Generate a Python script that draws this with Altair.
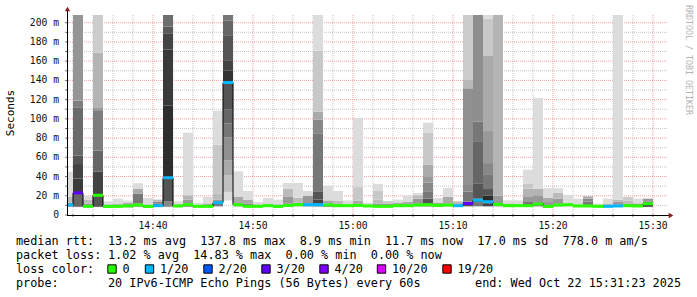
import altair as alt
import pandas as pd

# ---------------- data ----------------
# one bar per minute, start minute counted from 14:00
bar_start_min = list(range(31, 90))
median_ms = [10.5, 23, 9, 20.5, 8.9, 9, 9.5, 10.4, 8.9, 9.7,
             38.8, 9.4, 10.7, 9, 9, 12.8, 137.8, 10.7, 9, 9,
             9.7, 8.9, 10, 10.7, 10.7, 10.7, 10.5, 9.7, 9.7, 10,
             9.4, 9, 9, 9.7, 9.7, 10.4, 10.7, 10, 10.4, 9.7,
             12, 15.3, 13.8, 11.1, 9.7, 9.7, 9.7, 11.4, 8.9, 10.4,
             10.7, 9.4, 9.4, 9, 9, 9.4, 9.7, 9.4, 11.7]
loss = ["1/20", "3/20", "0", "0", "0", "0", "0", "0", "0", "1/20",
        "1/20", "0", "0", "0", "0", "1/20", "1/20", "0", "0", "0",
        "0", "0", "0", "0", "1/20", "1/20", "0", "0", "0", "0",
        "0", "0", "0", "0", "0", "0", "0", "0", "0", "1/20",
        "3/20", "1/20", "1/20", "0", "0", "0", "0", "0", "0", "0",
        "0", "0", "0", "0", "1/20", "1/20", "0", "0", "0"]
# smoke: lowest ping, then upper edge of each band and its lightness (0 black .. 255 white)
smoke_low = [8.5, 8.5, 8, 8.5, 8, 8.5, 8, 8.5, 8, 9,
             8.5, 8.5, 8.5, 8.5, 8.5, 9, 15, 9, 8.5, 8.5,
             8.5, 8, 8.5, 9, 9, 9, 8.5, 8.5, 8.5, 9,
             8.5, 8.5, 8.5, 8.5, 8.5, 9, 9, 8.5, 9, 8.5,
             9, 9, 9, 9, 9, 9, 9, 9, 8.5, 9,
             9, 8.5, 8.5, 8.5, 8.5, 9, 9, 9, 8.5]
smoke_tops = [
    [13, 19, 45], [22, 38, 53, 62, 112, 119, 208], [12, 16, 20],
    [20, 45, 67, 109, 112, 169, 208], [11, 14.2], [12, 17], [11, 13, 15],
    [12, 22, 27, 33], [11, 17.7], [12, 14, 16],
    [14, 39, 114, 172, 189, 196, 208], [11, 14.2], [12, 16, 20.5, 85.6],
    [12.5], [12, 18.7], [12, 16, 22, 73, 108.5],
    [24, 41, 57, 81, 95, 110, 139, 150, 161, 187, 202, 208],
    [12, 18.7, 45.4], [12, 16, 25], [11, 13.5],
    [12, 17.7], [11, 16], [12, 18.7, 27, 33.3], [13, 18, 33.3], [12, 20, 25],
    [12, 16, 24, 85, 99, 107.5, 171, 208], [12, 15.2, 30.5], [11, 15, 25],
    [11, 15.2], [12, 15, 29, 101],
    [12.8], [12, 16, 25.6, 32.2], [12, 14.6], [11, 13, 16], [11, 14, 20.1],
    [12, 17, 20.5, 22.9], [12, 17, 24, 33.6, 39.5, 52.3, 85.6, 96],
    [11, 13, 17.7], [12, 18.7, 28], [11, 14.2],
    [14, 24.3, 31.2, 131.7, 140.4, 208], [13, 17, 33, 76, 97, 208],
    [12, 20, 27, 41.7, 54, 87.3, 166, 204, 208], [12, 20, 208], [12, 15.2],
    [12, 15.2], [13.5, 18.7, 27.4, 32.6, 47.1], [12.5, 20.5, 27.4, 121.7],
    [13.5, 17.7, 28], [12, 17, 23, 28],
    [12, 21], [11, 17], [11, 14, 17, 19.4], [11.8], [12, 17],
    [11, 14, 16, 208], [12, 15, 18.7], [12, 17], [11, 14, 17]]
smoke_light = [
    [153, 187, 220], [102, 58, 68, 85, 106, 127, 149], [153, 187, 220],
    [85, 68, 102, 125, 153, 180, 204], [153, 220], [187, 220], [136, 170, 220],
    [153, 119, 170, 220], [170, 220], [102, 136, 187],
    [136, 85, 46, 58, 68, 90, 110], [136, 220], [136, 153, 181, 220],
    [220], [170, 220], [119, 153, 187, 200, 220],
    [220, 192, 170, 144, 119, 102, 85, 51, 68, 85, 102, 119],
    [136, 170, 220], [136, 170, 220], [170, 220],
    [187, 220], [153, 220], [136, 153, 187, 220], [153, 187, 220], [119, 153, 220],
    [51, 68, 85, 119, 136, 170, 200, 220], [136, 170, 220], [153, 187, 220],
    [170, 220], [136, 170, 200, 220],
    [220], [153, 187, 200, 220], [153, 204], [136, 170, 220], [136, 170, 220],
    [119, 153, 187, 220], [68, 85, 119, 136, 153, 170, 200, 220],
    [136, 170, 220], [136, 170, 220], [119, 187],
    [85, 119, 136, 144, 184, 204], [119, 68, 85, 102, 119, 142],
    [68, 42, 85, 119, 136, 153, 170, 200, 220], [119, 153, 180], [170, 220],
    [187, 220], [119, 153, 180, 200, 220], [119, 153, 180, 220],
    [153, 170, 220], [119, 153, 187, 220],
    [187, 220], [187, 220], [85, 119, 136, 170], [220], [187, 220],
    [119, 153, 187, 220], [153, 187, 204], [153, 220], [68, 102, 153]]

loss_labels = ["0", "1/20", "2/20", "3/20", "4/20", "10/20", "19/20"]
loss_colors = ["#26ff00", "#00b8ff", "#0059ff", "#5e00ff", "#7e00ff", "#dd00ff", "#ff0000"]

x_major = [40, 50, 60, 70, 80, 90]
x_major_labels = ["14:40", "14:50", "15:00", "15:10", "15:20", "15:30"]
x_minor = [32, 34, 36, 38, 42, 44, 46, 48, 52, 54, 56, 58, 62, 64, 66, 68,
           72, 74, 76, 78, 82, 84, 86, 88]
y_major = [20, 40, 60, 80, 100, 120, 140, 160, 180, 200]
y_minor = [10, 30, 50, 70, 90, 110, 130, 150, 170, 190]
y_label_values = [0, 20, 40, 60, 80, 100, 120, 140, 160, 180, 200]
y_label_texts = ["0  ", "20 m", "40 m", "60 m", "80 m", "100 m", "120 m",
                 "140 m", "160 m", "180 m", "200 m"]

stats_lines = [
    ("median rtt:", "13.2 ms avg  137.8 ms max  8.9 ms min  11.7 ms now  17.0 ms sd  778.0 m am/s"),
    ("packet loss:", "1.02 % avg  14.83 % max  0.00 % min  0.00 % now"),
    ("loss color:", ""),
    ("probe:", "20 IPv6-ICMP Echo Pings (56 Bytes) every 60s"),
]
end_text = "end: Wed Oct 22 15:31:23 2025"


def nb(s):
    return s.replace(" ", "\u00a0")


# ---------------- tables ----------------
segs = []
for k, s in enumerate(bar_start_min):
    lo = smoke_low[k]
    for top, light in zip(smoke_tops[k], smoke_light[k]):
        segs.append({"start": s, "end": s + 1, "lo": lo, "hi": top,
                     "col": "#%02x%02x%02x" % (light, light, light)})
        lo = top
seg_df = pd.DataFrame(segs)

med_df = pd.DataFrame({"start": bar_start_min,
                       "end": [s + 1 for s in bar_start_min],
                       "med": median_ms, "loss": loss})
line_rows = []
for k, s in enumerate(bar_start_min):
    line_rows.append({"t": s, "med": median_ms[k], "i": 2 * k})
    line_rows.append({"t": s + 1, "med": median_ms[k], "i": 2 * k + 1})
line_df = pd.DataFrame(line_rows)

# ---------------- layout ----------------
W, H = 600, 200
PADL, PADT = 67, 15
FONT = "DejaVu Sans Mono"
LFS = 11.8
xs = alt.Scale(domain=[31.4, 91.4], nice=False, zero=False)
ys = alt.Scale(domain=[0, 208], nice=False, zero=False)


def vgrid(vals, color):
    return alt.Chart(pd.DataFrame({"v": vals})).mark_rule(
        color=color, strokeDash=[1, 1], strokeWidth=1).encode(
        x=alt.X("v:Q", scale=xs, axis=None))


def hgrid(vals, color):
    return alt.Chart(pd.DataFrame({"v": vals})).mark_rule(
        color=color, strokeDash=[1, 1], strokeWidth=1).encode(
        y=alt.Y("v:Q", scale=ys, axis=None))


grid = [vgrid(x_minor, "#c4c4c4"), hgrid(y_minor, "#c4c4c4"),
        vgrid(x_major, "#f2a0a0"), hgrid(y_major, "#f2a0a0")]

smoke = alt.Chart(seg_df).mark_rect(clip=True, strokeWidth=0).encode(
    x=alt.X("start:Q", scale=xs, axis=None),
    x2="end:Q",
    y=alt.Y("lo:Q", scale=ys, axis=None),
    y2="hi:Q",
    color=alt.Color("col:N", scale=None),
)

med_line = alt.Chart(line_df).mark_line(color="#000000", strokeWidth=1, clip=True).encode(
    x=alt.X("t:Q", scale=xs, axis=None),
    y=alt.Y("med:Q", scale=ys, axis=None),
    order=alt.Order("i:Q"),
)

med_col = alt.Chart(med_df).mark_rule(strokeWidth=3, clip=True).encode(
    x=alt.X("start:Q", scale=xs, axis=None), x2="end:Q",
    y=alt.Y("med:Q", scale=ys, axis=None),
    color=alt.Color("loss:N", scale=alt.Scale(domain=loss_labels, range=loss_colors), legend=None),
)

# axis labels and ticks
xlab_df = pd.DataFrame({"v": x_major, "lab": x_major_labels})
x_labels = alt.Chart(xlab_df).mark_text(
    align="center", baseline="middle", font=FONT, fontSize=9.7, color="#111").encode(
    x=alt.X("v:Q", scale=xs, axis=None), y=alt.value(H + 10.5), text="lab:N")
x_ticks = alt.Chart(pd.DataFrame({"v": x_major + x_minor})).mark_rule(
    color="#777", strokeWidth=1).encode(
    x=alt.X("v:Q", scale=xs, axis=None), y=alt.value(H - 1), y2=alt.value(H + 2))
ylab_df = pd.DataFrame({"v": y_label_values, "lab": [nb(t) for t in y_label_texts]})
y_labels = alt.Chart(ylab_df).mark_text(
    align="right", baseline="middle", font=FONT, fontSize=9.7, color="#111").encode(
    y=alt.Y("v:Q", scale=ys, axis=None), x=alt.value(-8), text="lab:N")
y_ticks = alt.Chart(pd.DataFrame({"v": y_label_values + y_minor})).mark_rule(
    color="#777", strokeWidth=1).encode(
    y=alt.Y("v:Q", scale=ys, axis=None), x=alt.value(-2), x2=alt.value(1))

one = pd.DataFrame({"a": [0]})
axis_x = alt.Chart(one).mark_rule(color="#000", strokeWidth=1).encode(
    x=alt.value(0), x2=alt.value(W + 2), y=alt.value(H + 0.5))
axis_y = alt.Chart(one).mark_rule(color="#000", strokeWidth=1).encode(
    x=alt.value(0.5), y=alt.value(-5), y2=alt.value(H))
arrow_x = alt.Chart(one).mark_point(shape="triangle-right", filled=True, size=28,
                                    color="#8b1a1a", opacity=1).encode(
    x=alt.value(W + 4), y=alt.value(H + 0.5))
arrow_y = alt.Chart(one).mark_point(shape="triangle-up", filled=True, size=28,
                                    color="#8b1a1a", opacity=1).encode(
    x=alt.value(0.5), y=alt.value(-6))

# text blocks (pixel positions relative to plot origin)
line_y = [241, 255, 269, 283]
txt_rows = []
for (lab, val), yy in zip(stats_lines, line_y):
    txt_rows.append({"text": nb(lab), "px": 16 - PADL, "py": yy - PADT})
    if val:
        txt_rows.append({"text": nb(val), "px": 108 - PADL, "py": yy - PADT})
txt_df = pd.DataFrame(txt_rows)
legend_text = alt.Chart(txt_df).mark_text(
    align="left", baseline="middle", font=FONT, fontSize=LFS, color="#000").encode(
    x=alt.X("px:Q", scale=None), y=alt.Y("py:Q", scale=None), text="text:N")

end_layer = alt.Chart(pd.DataFrame({"text": [nb(end_text)]})).mark_text(
    align="right", baseline="middle", font=FONT, fontSize=LFS, color="#000").encode(
    x=alt.value(681 - PADL), y=alt.value(283 - PADT), text="text:N")

box_x = [112, 149.5, 208, 266, 324, 381.5, 447]
box_df = pd.DataFrame({"lab": loss_labels, "bx": [b - PADL for b in box_x],
                       "tx": [b - PADL + 10.5 for b in box_x]})
boxes = alt.Chart(box_df).mark_square(size=70, stroke="#000", strokeWidth=1, opacity=1).encode(
    x=alt.X("bx:Q", scale=None), y=alt.value(269 - PADT),
    fill=alt.Color("lab:N", scale=alt.Scale(domain=loss_labels, range=loss_colors), legend=None))
box_labels = alt.Chart(box_df).mark_text(
    align="left", baseline="middle", font=FONT, fontSize=LFS, color="#000").encode(
    x=alt.X("tx:Q", scale=None), y=alt.value(269 - PADT), text="lab:N")

y_title = alt.Chart(pd.DataFrame({"text": ["Seconds"]})).mark_text(
    angle=270, align="center", baseline="middle", font=FONT, fontSize=11, color="#000").encode(
    x=alt.value(11 - PADL), y=alt.value(113 - PADT), text="text:N")

watermark = alt.Chart(pd.DataFrame({"text": [nb("RRDTOOL / TOBI OETIKER")]})).mark_text(
    angle=90, align="left", baseline="middle", font=FONT, fontSize=8.3, color="#b4b4b4").encode(
    x=alt.value(688 - PADL), y=alt.value(5 - PADT), text="text:N")

chart = alt.layer(
    *grid, smoke, med_line, med_col, x_ticks, y_ticks, axis_x, axis_y, arrow_x, arrow_y,
    x_labels, y_labels, legend_text, end_layer, boxes, box_labels, y_title, watermark
).properties(
    width=W, height=H,
    autosize=alt.AutoSizeParams(type="none"),
    padding={"left": PADL, "top": PADT, "right": 697 - PADL - W, "bottom": 297 - PADT - H},
    background="#ffffff",
).configure_view(stroke=None)

chart.save("out.html", embed_options={"renderer": "svg", "actions": False})
